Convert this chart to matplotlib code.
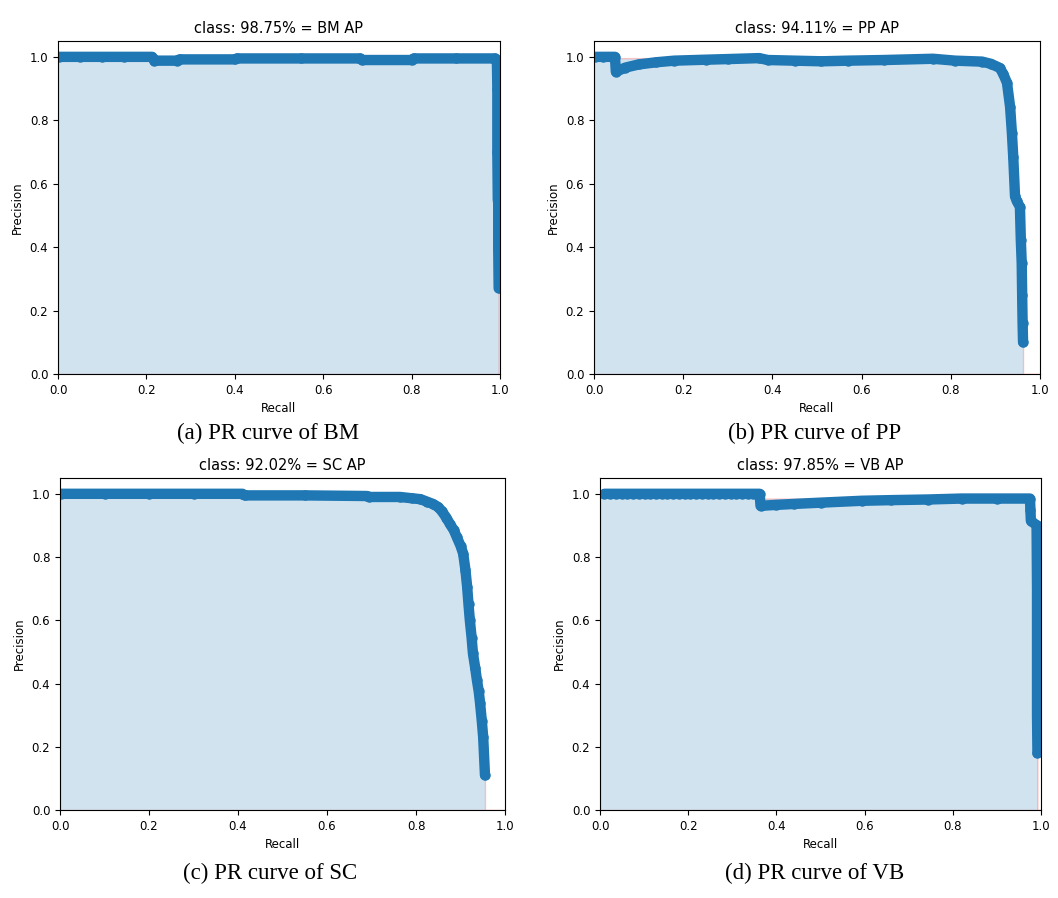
import numpy as np
import matplotlib.pyplot as plt

plt.rcParams['font.size'] = 8.5

# PR curve points
bm_rec = [0.002, 0.05, 0.10, 0.15, 0.213, 0.218, 0.27, 0.275, 0.40, 0.405, 0.55, 0.683,
          0.688, 0.80, 0.805, 0.90, 0.988, 0.993, 0.994, 0.994, 0.995, 0.996, 0.996, 0.997]
bm_prec = [1.0, 1.0, 1.0, 1.0, 1.0, 0.988, 0.988, 0.992, 0.992, 0.995, 0.995, 0.995,
           0.99, 0.99, 0.995, 0.995, 0.995, 0.99, 0.90, 0.70, 0.55, 0.54, 0.40, 0.27]

pp_rec = [0.002, 0.02, 0.047, 0.049, 0.07, 0.10, 0.14, 0.18, 0.25, 0.30, 0.37, 0.39,
          0.45, 0.51, 0.57, 0.65, 0.76, 0.81, 0.87, 0.89, 0.91, 0.918, 0.926, 0.933,
          0.937, 0.940, 0.944, 0.948, 0.955, 0.957, 0.959, 0.960, 0.961, 0.962]
pp_prec = [1.0, 1.0, 1.0, 0.953, 0.966, 0.976, 0.983, 0.988, 0.991, 0.993, 0.996, 0.990,
           0.988, 0.986, 0.988, 0.990, 0.994, 0.988, 0.985, 0.978, 0.965, 0.945, 0.918, 0.842,
           0.76, 0.685, 0.56, 0.545, 0.527, 0.423, 0.35, 0.25, 0.16, 0.10]

sc_rec = [0.002, 0.10, 0.20, 0.30, 0.41, 0.415, 0.55, 0.69, 0.695, 0.764, 0.79, 0.81,
          0.825, 0.838, 0.85, 0.858, 0.868, 0.876, 0.885, 0.892, 0.900, 0.906, 0.911,
          0.915, 0.918, 0.921, 0.925, 0.928, 0.933, 0.937, 0.941, 0.944, 0.948, 0.951, 0.955]
sc_prec = [1.0, 1.0, 1.0, 1.0, 1.0, 0.995, 0.995, 0.993, 0.99, 0.99, 0.986, 0.983,
           0.975, 0.968, 0.958, 0.945, 0.925, 0.905, 0.885, 0.862, 0.836, 0.811, 0.76,
           0.705, 0.65, 0.60, 0.545, 0.495, 0.45, 0.41, 0.375, 0.338, 0.28, 0.23, 0.11]

vb_rec = [0.01, 0.023, 0.036, 0.049, 0.062, 0.075, 0.088, 0.101, 0.114, 0.127, 0.140,
          0.153, 0.166, 0.179, 0.192, 0.205, 0.218, 0.231, 0.244, 0.257, 0.270, 0.283,
          0.296, 0.309, 0.322, 0.335, 0.348, 0.362, 0.364, 0.40, 0.44, 0.50, 0.594, 0.66,
          0.744, 0.82, 0.90, 0.975, 0.976, 0.977, 0.99, 0.991, 0.991, 0.991, 0.992]
vb_prec = [1.0] * 28 + [0.962, 0.965, 0.968, 0.972, 0.978, 0.980, 0.982, 0.985, 0.985,
                        0.985, 0.95, 0.915, 0.90, 0.70, 0.50, 0.30, 0.18]

classes = ["BM", "PP", "SC", "VB"]
aps = [98.75, 94.11, 92.02, 97.85]
captions = ["(a) PR curve of BM", "(b) PR curve of PP", "(c) PR curve of SC", "(d) PR curve of VB"]
recs = [bm_rec, pp_rec, sc_rec, vb_rec]
precs = [bm_prec, pp_prec, sc_prec, vb_prec]

W, H = 1058, 898
fig = plt.figure(figsize=(W / 100, H / 100), dpi=100)

# axes boxes in pixels: left, top, right, bottom
boxes = [(58, 41, 500, 374), (594, 41, 1040, 374), (60, 478, 505, 810), (600, 478, 1041, 810)]
cap_pos = [(268, 433), (815, 433), (270, 873), (815, 873)]

for i in range(4):
    l, t, r, b = boxes[i]
    ax = fig.add_axes([l / W, 1 - b / H, (r - l) / W, (b - t) / H])
    rec = list(recs[i])
    prec = list(precs[i])

    # interpolated envelope (same as the usual mAP script)
    mrec = [0.0] + rec + [1.0]
    mpre = [0.0] + prec + [0.0]
    for k in range(len(mpre) - 2, -1, -1):
        mpre[k] = max(mpre[k], mpre[k + 1])
    ax_x = mrec[:-1] + [mrec[-2]] + [mrec[-1]]
    ax_y = mpre[:-1] + [0.0] + [mpre[-1]]
    ax.fill_between(ax_x, 0, ax_y, alpha=0.2, edgecolor='r', zorder=1)

    ax.plot(rec, prec, '-o', color='#1f77b4', lw=7.5, ms=6.5,
            solid_capstyle='round', solid_joinstyle='round', zorder=2)

    ax.set_title("class: {:.2f}% = {} AP".format(aps[i], classes[i]), fontsize=10.5)
    ax.set_xlabel("Recall")
    ax.set_ylabel("Precision")
    ax.set_xlim([0.0, 1.0])
    ax.set_ylim([0.0, 1.05])

    cx, cy = cap_pos[i]
    fig.text(cx / W, 1 - cy / H, captions[i], ha='center', va='center',
             fontsize=16.5, family='Liberation Serif')

plt.savefig("out.png", dpi=100)
